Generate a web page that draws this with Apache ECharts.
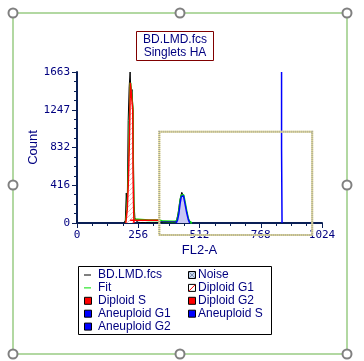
<!DOCTYPE html>
<html><head><meta charset="utf-8">
<script src="https://cdn.jsdelivr.net/npm/echarts@6/dist/echarts.min.js"></script>
<style>html,body{margin:0;padding:0;background:#fff}#c{width:364px;height:361px}</style>
</head><body><div id="c"></div>
<script>
// ---- data ----
const titleLines = ['BD.LMD.fcs', 'Singlets HA'];
const xTicks = [0, 256, 512, 768, 1024];
const yTicks = [0, 416, 832, 1247, 1663];
const xName = 'FL2-A';
const yName = 'Count';

// measured histogram (channel, count)
const histCh = [196,200,204,208,212,216,220,224,228,232,236,240,244,248,252,256,260,264,268,272,276,280,284,288,292,296,300,304,308,312,316,320,324,328,332,336,340,344,348,352,356,360,364,368,372,376,380,384,388,392,396,400,404,408,412,416,420,424,428,432,436,440,444,448,452,456,460,464,468,472,476,480];
const histCount = [0,5,30,330,170,1130,1500,1663,1400,1470,1230,220,60,25,15,8,12,5,10,0,6,10,4,0,8,5,0,6,0,4,8,0,5,0,6,10,0,4,0,6,12,8,15,18,6,10,14,8,18,12,8,14,10,16,20,25,45,100,170,250,300,338,315,280,220,150,100,55,30,15,8,0];

// model fit (sum of components)
const fitCh = [204,210,214,218,221,223,226,230,233,234,236,238,244,300,344,360,400,415,420,426,431,436,440,445,451,459,465,471,480];
const fitVal = [0,150,400,800,1200,1545,1560,1545,1245,600,250,40,32,30,30,18,16,18,45,120,230,300,318,308,230,115,45,12,0];

// components
const dipG1Ch = [204,210,214,218,221,223,226,230,233,234,236,238];
const dipG1Val = [0,150,400,800,1200,1545,1560,1545,1245,600,250,0];
const dipSCh = [222,344];
const dipSVal = [30,30];
const aneuSCh = [344,416];
const aneuSVal = [15,15];
const aneuG1Ch = [415,420,426,431,436,440,445,451,459,465,471];
const aneuG1Val = [0,30,107,217,290,308,300,217,107,40,0];
const aneuG2Ch = [855,855,857,857];
const aneuG2Val = [1663,826,826,0];

// gate region (channel range, count range)
const gateX = [344, 983];
const gateY = [-132, 1005];

const legendCol1 = ['BD.LMD.fcs', 'Fit', 'Diploid S', 'Aneuploid G1', 'Aneuploid G2'];
const legendCol2 = ['Noise', 'Diploid G1', 'Diploid G2', 'Aneuploid S'];

// ---- chart ----
const pairs = (a, b) => a.map((v, i) => [v, b[i]]);
const NAVY = '#0a1f55';
const TXT = '#000080';

const hatch = document.createElement('canvas');
hatch.width = 5; hatch.height = 5;
(function(){const g = hatch.getContext('2d');g.fillStyle='#fff';g.fillRect(0,0,5,5);g.strokeStyle='#f4b8b8';g.lineWidth=1;g.beginPath();g.moveTo(0,5);g.lineTo(5,0);g.stroke();})();

const chart = echarts.init(document.getElementById('c'), null, {renderer: 'canvas'});
const option = {
  animation: false,
  backgroundColor: '#fff',
  grid: {left: 77, top: 72, width: 245, height: 151, containLabel: false},
  xAxis: {
    type: 'value', min: 0, max: 1024, interval: 256,
    name: xName, nameLocation: 'middle', nameGap: 21, nameMoveOverlap: false,
    nameTextStyle: {color: TXT, fontFamily: 'Liberation Sans', fontSize: 13},
    axisLine: {show: true, lineStyle: {color: NAVY, width: 2}},
    axisTick: {show: true, length: 5, lineStyle: {color: NAVY, width: 1}},
    minorTick: {show: true, splitNumber: 4, length: 3, lineStyle: {color: NAVY, width: 1}},
    splitLine: {show: false},
    axisLabel: {color: TXT, fontFamily: 'DejaVu Sans Mono', fontSize: 11, margin: 7,
      formatter: v => String(xTicks[Math.round(v / 256)])}
  },
  yAxis: {
    type: 'value', min: 0, max: yTicks[4], interval: yTicks[4] / 4,
    name: yName, nameLocation: 'middle', nameGap: 37, nameRotate: 90, nameMoveOverlap: false,
    nameTextStyle: {color: TXT, fontFamily: 'Liberation Sans', fontSize: 13},
    axisLine: {show: true, onZero: false, lineStyle: {color: NAVY, width: 2}},
    axisTick: {show: true, length: 5, lineStyle: {color: NAVY, width: 1}},
    minorTick: {show: true, splitNumber: 4, length: 3, lineStyle: {color: NAVY, width: 1}},
    splitLine: {show: false},
    axisLabel: {color: TXT, fontFamily: 'DejaVu Sans Mono', fontSize: 11, margin: 7,
      formatter: v => String(yTicks[Math.round(v / (yTicks[4] / 4))])}
  },
  series: [
    {name: 'BD.LMD.fcs', type: 'line', step: 'middle', data: pairs(histCh, histCount), symbol: 'none',
     lineStyle: {color: '#000', width: 1}, z: 2},
    {name: 'Fit', type: 'line', data: pairs(fitCh, fitVal), symbol: 'none',
     lineStyle: {color: '#00e000', width: 2}, z: 3},
    {name: 'Diploid G1', type: 'line', data: pairs(dipG1Ch, dipG1Val), symbol: 'none',
     lineStyle: {color: '#ff0000', width: 1.5}, areaStyle: {color: {image: hatch, repeat: 'repeat'}, opacity: 1}, z: 4},
    {name: 'Diploid S', type: 'line', data: pairs(dipSCh, dipSVal), symbol: 'none',
     lineStyle: {color: '#ff0000', width: 1.5}, z: 4},
    {name: 'Aneuploid S', type: 'line', data: pairs(aneuSCh, aneuSVal), symbol: 'none',
     lineStyle: {color: '#2020a0', width: 1}, z: 4},
    {name: 'Aneuploid G1', type: 'line', data: pairs(aneuG1Ch, aneuG1Val), symbol: 'none',
     lineStyle: {color: '#0000ff', width: 1.5}, areaStyle: {color: '#c8c8f4', opacity: 1}, z: 4},
    {name: 'Aneuploid G2', type: 'line', data: pairs(aneuG2Ch, aneuG2Val), symbol: 'none',
     lineStyle: {color: '#0000ff', width: 1.5}, z: 4}
  ]
};
chart.setOption(option);

// ---- decorations ----
const p0 = chart.convertToPixel({gridIndex: 0}, [gateX[0], gateY[1]]);
const p1 = chart.convertToPixel({gridIndex: 0}, [gateX[1], gateY[0]]);
const gfx = [];
// gate
gfx.push({type: 'rect', shape: {x: p0[0], y: p0[1], width: p1[0] - p0[0], height: p1[1] - p0[1]},
  style: {fill: null, stroke: '#ece39a', lineWidth: 2}, z: 10});
gfx.push({type: 'rect', shape: {x: p0[0], y: p0[1], width: p1[0] - p0[0], height: p1[1] - p0[1]},
  style: {fill: null, stroke: '#a4a496', lineWidth: 2, lineDash: [1, 1]}, z: 11});
// outer frame
gfx.push({type: 'rect', shape: {x: 13, y: 13, width: 334, height: 341},
  style: {fill: null, stroke: '#b2d8a2', lineWidth: 2}, z: 20});
[[13,13],[180,13],[347,13],[13,185],[347,185],[13,354],[180,354],[347,354]].forEach(p => {
  gfx.push({type: 'circle', shape: {cx: p[0], cy: p[1], r: 4.5},
    style: {fill: '#fff', stroke: '#808080', lineWidth: 2}, z: 21});
});
// title box
gfx.push({type: 'rect', shape: {x: 136.5, y: 31.5, width: 77, height: 29},
  style: {fill: '#fff', stroke: '#800000', lineWidth: 1}, z: 20});
titleLines.forEach((t, i) => {
  gfx.push({type: 'text', x: 175, y: 40 + i * 13, style: {text: t, fill: TXT, font: '12px "Liberation Sans"', align: 'center', verticalAlign: 'middle'}, z: 21});
});
// legend box
gfx.push({type: 'rect', shape: {x: 78.5, y: 266.5, width: 193, height: 68},
  style: {fill: '#fff', stroke: '#000', lineWidth: 1}, z: 20});
const rowY = i => 275 + i * 12.9;
const sq = (x, y, fill) => gfx.push({type: 'rect', shape: {x: x + 0.5, y: y - 3.5, width: 7, height: 7}, style: {fill: fill, stroke: '#000', lineWidth: 1}, z: 21});
const icons1 = [
  (y) => gfx.push({type: 'line', shape: {x1: 84, y1: y, x2: 91, y2: y}, style: {stroke: '#000', lineWidth: 1}, z: 21}),
  (y) => gfx.push({type: 'line', shape: {x1: 84, y1: y, x2: 91, y2: y}, style: {stroke: '#00e000', lineWidth: 1}, z: 21}),
  (y) => sq(84, y, '#ff0000'),
  (y) => sq(84, y, '#0000ff'),
  (y) => sq(84, y, '#0000ff')
];
const icons2 = [
  (y) => { sq(188, y, '#c8d8ec');
    gfx.push({type: 'line', shape: {x1: 189, y1: y - 3, x2: 195, y2: y + 3}, style: {stroke: '#8090b0', lineWidth: 1}, z: 22});
    gfx.push({type: 'line', shape: {x1: 189, y1: y + 3, x2: 195, y2: y - 3}, style: {stroke: '#8090b0', lineWidth: 1}, z: 22}); },
  (y) => { sq(188, y, '#fff');
    gfx.push({type: 'line', shape: {x1: 189, y1: y + 3, x2: 195, y2: y - 3}, style: {stroke: '#ff0000', lineWidth: 1}, z: 22}); },
  (y) => sq(188, y, '#ff0000'),
  (y) => sq(188, y, '#0000ff')
];
legendCol1.forEach((t, i) => {
  icons1[i](rowY(i));
  gfx.push({type: 'text', x: 98, y: rowY(i), style: {text: t, fill: TXT, font: '12px "Liberation Sans"', verticalAlign: 'middle'}, z: 21});
});
legendCol2.forEach((t, i) => {
  icons2[i](rowY(i));
  gfx.push({type: 'text', x: 198, y: rowY(i), style: {text: t, fill: TXT, font: '12px "Liberation Sans"', verticalAlign: 'middle'}, z: 21});
});
chart.setOption({graphic: {elements: gfx}});
</script>
</body></html>
